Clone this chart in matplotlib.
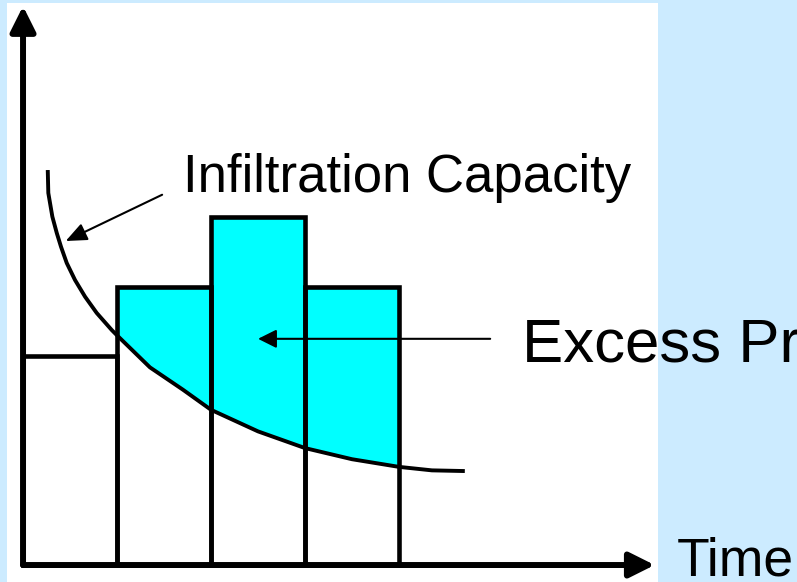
import numpy as np
import matplotlib.pyplot as plt
from matplotlib.patches import Rectangle

plt.rcParams['font.family'] = ['Liberation Sans', 'DejaVu Sans']

# rainfall hyetograph, 4 equal time steps
bar_left = [0, 1, 2, 3]
rain = [3, 4, 5, 4]

# infiltration capacity curve
cap_t = [0.263, 0.269, 0.312, 0.359, 0.404, 0.465, 0.553, 0.66, 0.784, 0.944, 1.0,
         1.35, 1.7, 2.0, 2.5, 3.0, 3.5, 4.0, 4.35, 4.7]
cap_f = [5.675, 5.345, 5.005, 4.77, 4.573, 4.339, 4.095, 3.855, 3.621, 3.376, 3.30,
         2.84, 2.52, 2.23, 1.92, 1.68, 1.52, 1.41, 1.36, 1.35]

fig = plt.figure(figsize=(7.97, 5.82), dpi=100, facecolor='#CCEBFF')
fig.patches.append(Rectangle((7 / 797, 0), 651 / 797, 579 / 582, transform=fig.transFigure,
                             facecolor='white', edgecolor='none', zorder=-1))
ax = fig.add_axes([0, 0, 1, 1])
ax.set_xlim(-0.245, 8.234)
ax.set_ylim(-0.244, 8.118)
ax.axis('off')

t = np.array(cap_t)
f = np.array(cap_f)

# excess precipitation = rain above the capacity curve
for x0, h in zip(bar_left, rain):
    m = (t >= x0) & (t <= x0 + 1)
    ax.fill_between(t[m], f[m], h, where=f[m] < h, interpolate=True,
                    color='#00FFFF', lw=0, zorder=1)

ax.plot(t, f, color='black', lw=2.8, zorder=2, solid_capstyle='butt')
ax.bar(bar_left, rain, width=1, align='edge', facecolor='none',
       edgecolor='black', lw=3.3, zorder=3)

# axes with arrows
axis_arrow = dict(arrowstyle='-|>', mutation_scale=38, lw=4.3, color='black',
                  shrinkA=0, shrinkB=0)
ax.annotate('', xy=(0, 8.03), xytext=(0, 0), arrowprops=axis_arrow, zorder=4)
ax.annotate('', xy=(6.72, 0), xytext=(0, 0), arrowprops=axis_arrow, zorder=4)

# labels
ax.annotate('', xy=(0.454, 4.655), xytext=(1.48, 5.32),
            arrowprops=dict(arrowstyle='-|>,head_length=0.4,head_width=0.17',
                            mutation_scale=32, lw=1.5, color='black',
                            shrinkA=0, shrinkB=0), zorder=4)
ax.text(1.70, 5.36, 'Infiltration Capacity', fontsize=38, va='baseline')

ax.annotate('', xy=(2.5, 3.25), xytext=(4.97, 3.25),
            arrowprops=dict(arrowstyle='-|>,head_length=0.4,head_width=0.2',
                            mutation_scale=28, lw=1.5, color='black',
                            shrinkA=0, shrinkB=0), zorder=4)
ax.text(5.31, 2.92, 'Excess Precipitation', fontsize=44.5, va='baseline')

ax.text(6.96, -0.144, 'Time', fontsize=38.5, va='baseline')

fig.savefig('out.png', dpi=100, facecolor=fig.get_facecolor())
